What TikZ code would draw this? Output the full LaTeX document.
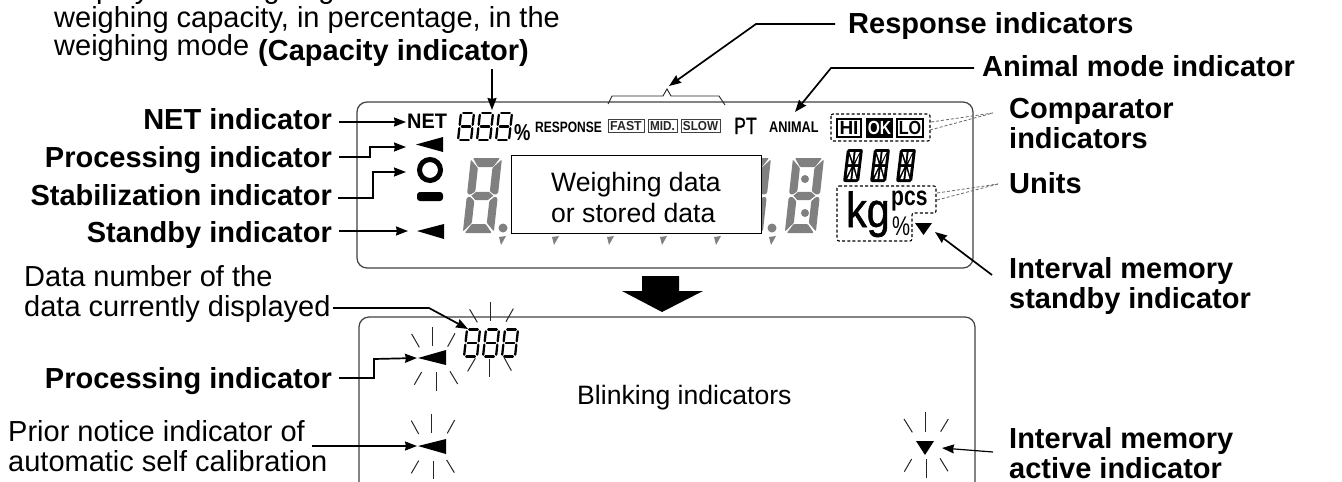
\documentclass[tikz,border=0pt]{standalone}
\usepackage{fontspec}
\setmainfont{Liberation Sans}
\newfontfamily\semib[FakeBold=1.2]{Liberation Sans}
\usetikzlibrary{arrows.meta,calc}
\definecolor{seg}{HTML}{808080}
\definecolor{frame}{HTML}{404040}
\newcommand{\sqz}[2]{\scalebox{#1}[1]{#2}}
% grey seven-segment digit, box 31x75
\newcommand{\biggray}[2]{%
\begin{scope}[shift={(#1,#2)},xslant=.11]
\fill[seg,rounded corners=1pt] (2,0)--(29,0)--(23,9)--(8,9)--cycle;
\fill[seg,rounded corners=1pt] (31,1.5)--(31,35)--(28,37)--(22.5,33.5)--(22.5,10)--cycle;
\fill[seg,rounded corners=1pt] (31,40)--(31,73.5)--(23,65)--(23,43)--(28,38.5)--cycle;
\fill[seg,rounded corners=1pt] (29,75)--(2,75)--(8,66)--(22,66)--cycle;
\fill[seg,rounded corners=1pt] (0,73.5)--(0,40)--(3,38.5)--(8,43)--(8,65)--cycle;
\fill[seg,rounded corners=1pt] (0,35)--(0,1.5)--(8,10)--(8,33.5)--(3,37)--cycle;
\fill[seg] (4.5,37.7)--(9,33.8)--(21.5,33.8)--(26.5,37.7)--(21.5,42)--(9,42)--cycle;
\end{scope}}
% small outlined digit
\newcommand{\smalleight}[2]{%
\begin{scope}[shift={(#1,#2)},xslant=.11,line width=2.3pt,line cap=round]
\draw (2.2,0)--(10.8,0);\draw (13,1.8)--(13,11.8);\draw (13,15.2)--(13,25.2);
\draw (2.2,27)--(10.8,27);\draw (0,25.2)--(0,15.2);\draw (0,11.8)--(0,1.8);
\draw (2.2,13.5)--(10.8,13.5);
\end{scope}}
% fourteen-segment digit
\newcommand{\alnum}[2]{%
\begin{scope}[shift={(#1,#2)},xslant=.12]
\fill[black,rounded corners=2pt] (0,0) rectangle (16,33);
\fill[white] (3,3)--(7,3)--(7,12)--cycle;
\fill[white] (9,13)--(13,3)--(9,3)--cycle;
\fill[white] (13,6)--(13,15)--(10,15)--cycle;
\fill[white] (3,7)--(3,15)--(6.5,15)--cycle;
\fill[white] (3,18)--(6.5,18)--(3,27)--cycle;
\fill[white] (7,21)--(7,30)--(4,30)--cycle;
\fill[white] (9,20)--(13,30)--(9,30)--cycle;
\fill[white] (13,18)--(13,26)--(10,18)--cycle;
\end{scope}}
\newcommand{\tailseg}[1]{\fill[seg] (#1-3,237)--(#1+4,236)--(#1-1,245)--cycle;}
\tikzset{
 lblb/.style={font=\fontsize{29}{30}\selectfont\bfseries,inner sep=0pt,align=left},
 lbln/.style={font=\fontsize{29}{30}\selectfont,inner sep=0pt,align=left},
 lbls/.style={font=\fontsize{26.6}{31}\selectfont,inner sep=0pt,align=left},
 lead/.style={line width=1.7pt,-{Stealth[length=12pt,width=9pt,inset=1pt]}},
 dash1/.style={line width=.8pt,dash pattern=on 3pt off 2pt,black!60},
 dbox/.style={line width=1.1pt,dash pattern=on 3pt off 2.2pt,black},
 panel/.style={line width=1.2pt,frame,rounded corners=10pt},
 rayl/.style={line width=1pt,black!85},
 ind/.style={inner sep=0pt,font=\bfseries},
 respbox/.style={draw=black!75,line width=.9pt,inner sep=0pt,minimum height=13pt,font=\fontsize{13}{13}\selectfont\bfseries,text=black!85},
 cbox/.style={draw=black,line width=2pt,inner sep=0pt,minimum height=18pt,font=\fontsize{19}{19}\selectfont\bfseries},
}
\begin{document}
\begin{tikzpicture}[x=1pt,y=-1pt]
\useasboundingbox (0,0) rectangle (1342,482);
\clip (0,0) rectangle (1342,482);
% panels
\draw[panel] (357,102) rectangle (973,268);
\draw[panel] (359,317) rectangle (975,492);
% big digits
\biggray{471}{158}
\biggray{740}{158}
\biggray{793}{158}
\fill[seg] (805,179) circle (4);
\fill[seg] (805,213) circle (4);
\fill[seg] (503,228) circle (4.5);
\fill[seg] (772,228) circle (4.5);
\tailseg{502}\tailseg{555}\tailseg{610}\tailseg{663}\tailseg{717}\tailseg{772}
% data window
\node[draw=black,line width=1.1pt,fill=white,minimum width=250pt,minimum height=78pt,inner sep=0pt,anchor=north west] (win) at (511,155) {};
\node[lbls,anchor=base west] (windata) at (551,222) {Weighing data\\or stored data};
% upper row
\node[ind,anchor=base west,font=\fontsize{21}{21}\selectfont\bfseries] (net) at (407,128) {\sqz{.95}{NET}};
\smalleight{461}{113}\smalleight{480}{113}\smalleight{499}{113}
\node[inner sep=0pt,anchor=base west,font=\fontsize{23}{23}\selectfont\bfseries] (pct) at (514,140) {\sqz{.8}{\%}};
\node[ind,anchor=base west,font=\fontsize{15}{15}\selectfont\bfseries] (resp) at (535,132) {\sqz{.8}{RESPONSE}};
\node[respbox,minimum width=36pt] (fast) at (626,126) {\sqz{.95}{FAST}};
\node[respbox,minimum width=29pt] (mid) at (662.5,126) {\sqz{.9}{MID.}};
\node[respbox,minimum width=39pt] (slow) at (700.5,126) {\sqz{.9}{SLOW}};
\node[inner sep=0pt,anchor=base west,font=\fontsize{23.5}{23.5}\selectfont\semib] (pt) at (734,134) {\sqz{.75}{PT}};
\node[ind,anchor=base west,font=\fontsize{15.5}{15.5}\selectfont\bfseries] (animal) at (769,132) {\sqz{.82}{ANIMAL}};
\draw[dbox,rounded corners=2pt] (831,114) rectangle (930,141);
\node[cbox,minimum width=24pt] (hi) at (849,127.5) {HI};
\node[cbox,minimum width=25pt,fill=black,text=white] (ok) at (879.5,127.5) {\sqz{.82}{OK}};
\node[cbox,minimum width=26pt] (lo) at (910,127.5) {\sqz{.85}{LO}};
\alnum{847}{149}\alnum{874}{149}\alnum{900}{149}
% units
\draw[dbox,rounded corners=2pt] (837,186)--(936,186)--(936,213)--(912,213)--(912,241)--(837,241)--cycle;
\node[inner sep=0pt,anchor=base west,font=\fontsize{49}{49}\selectfont\semib] (kg) at (846,227) {\sqz{.84}{kg}};
\node[inner sep=0pt,anchor=base west,font=\fontsize{27}{27}\selectfont\bfseries] (pcs) at (891,205) {\sqz{.78}{pcs}};
\node[inner sep=0pt,anchor=base west,font=\fontsize{27}{27}\selectfont] (pctu) at (892,235) {\sqz{.75}{\%}};
\fill (915,223)--(932,223)--(923.5,235)--cycle;
% indicators at left
\fill (416,144.5)--(443,137)--(443,152)--cycle;
\draw[line width=5pt] (430,170) circle (10.5);
\fill[rounded corners=3pt] (417,192) rectangle (443,201);
\fill (417,231)--(444,224)--(444,239)--cycle;
% response brace
\draw[line width=.9pt,black!85] (608,104)--(612,96)--(663,96)--(667,89)--(671,96)--(719,96)--(725,105);
% big arrow
\fill (642,276)--(679,276)--(679,291)--(703,291)--(662,312)--(622,291)--(642,291)--cycle;
% blinking panel
\smalleight{467}{329.5}\smalleight{486}{329.5}\smalleight{505}{329.5}
\fill (418,358)--(446,350)--(446,365)--cycle;
\fill (418,446)--(446,439)--(446,454)--cycle;
\fill (916,441)--(934,441)--(925,455)--cycle;
\begin{scope}[shift={(370,260)},x=.3333pt,y=-.3333pt,rayl]
\draw (299,148)--(322,187);\draw (362,127)--(362,183);\draw (430,146)--(408,185);
\draw (316,295)--(293,334);\draw (360,296)--(360,352);\draw (402,292)--(424,332);
\draw (125,222)--(148,262);\draw (187,202)--(187,258);\draw (255,220)--(233,260);
\draw (155,336)--(133,374);\draw (200,336)--(200,392);\draw (240,334)--(263,372);
\draw (124,482)--(146,522);\draw (186,462)--(186,518);\draw (254,480)--(232,520);
\draw (146,602)--(124,640);\draw (190,602)--(190,658);\draw (230,600)--(253,638);
\end{scope}
\begin{scope}[shift={(880,400)},x=.3333pt,y=-.3333pt,rayl]
\draw (72,57)--(97,97);\draw (136,37)--(136,95);\draw (205,57)--(182,95);
\draw (95,177)--(73,215);\draw (140,178)--(140,235);\draw (180,175)--(204,214);
\end{scope}
\node[lbls,anchor=base west] (blink) at (577,404) {Blinking indicators};
% labels
\node[font=\fontsize{29}{28.5}\selectfont,inner sep=0pt,align=left,anchor=base west] (capnote) at (54,55.5) {Displays the weighing\\weighing capacity, in percentage, in the\\weighing mode};
\node[lblb,anchor=base west] (capb) at (258,60) {(Capacity indicator)};
\node[lblb,anchor=base east] (lnet) at (332,129) {NET indicator};
\node[lblb,anchor=base east] (lproc) at (332,167) {Processing indicator};
\node[lblb,anchor=base east] (lstab) at (332,205) {Stabilization indicator};
\node[lblb,anchor=base east] (lstby) at (332,242) {Standby indicator};
\node[lblb,anchor=base west] (lresp) at (848,33) {Response indicators};
\node[lblb,anchor=base west] (lanim) at (982,76) {Animal mode indicator};
\node[lblb,anchor=base west] (lcomp) at (1009,148) {Comparator\\indicators};
\node[lblb,anchor=base west] (lunit) at (1009,193) {Units};
\node[lblb,anchor=base west] (lstd2) at (1009,308) {Interval memory\\standby indicator};
\node[lblb,anchor=base west] (lact) at (1009,478) {Interval memory\\active indicator};
\node[lbln,anchor=base west] (ldata) at (24,316) {Data number of the\\data currently displayed};
\node[lblb,anchor=base east] (lproc2) at (332,388) {Processing indicator};
\node[lbln,anchor=base west] (lprior) at (8,471) {Prior notice indicator of\\automatic self calibration};
% connector ends
\coordinate (tcap) at (492,110);
\coordinate (tnet) at (406,122);
\coordinate (tproc) at (406,147);
\coordinate (tstab) at (406,172);
\coordinate (tstby) at (408,231);
\coordinate (tresp) at (669,86);
\coordinate (tanim) at (795,112);
\coordinate (tstd) at (935,232);
\coordinate (tdata) at (468,329);
\coordinate (tproc2) at (417,358);
\coordinate (tprior) at (417,446);
\coordinate (tact) at (942,448);
\coordinate (jcomp) at (993,113);
\coordinate (junit) at (998,184);
% connectors
\draw[lead] (492,69) -- (tcap);
\draw[lead] ([xshift=7pt,yshift=7pt]lnet.base east) -- (tnet);
\draw[lead] ([xshift=7pt,yshift=10pt]lproc.base east) -- (370,157) -- (370,147) -- (tproc);
\draw[lead] ([xshift=6pt,yshift=7pt]lstab.base east) -- (373,198) -- (373,172) -- (tstab);
\draw[lead] ([xshift=7pt,yshift=11pt]lstby.base east) -- (tstby);
\draw[lead] ([xshift=-13pt,yshift=9pt]lresp.base west) -- (756,24) -- (tresp);
\draw[lead] ([xshift=-8pt,yshift=8pt]lanim.base west) -- (831,68) -- (tanim);
\draw[lead] ($(lstd2.base west)+(-17,-33)$) -- (tstd);
\draw[lead] (333,308) -- (429,308) -- (tdata);
\draw[lead] ([xshift=7pt,yshift=10pt]lproc2.base east) -- (374,378) -- (374,359) -- (tproc2);
\draw[lead] (312,446) -- (tprior);
\draw[lead,line width=1.2pt] (993,452) -- (tact);
\draw[dash1] (931,122) -- (jcomp);
\draw[dash1] (930,130) -- (jcomp);
\draw[dash1] (937,193) -- (junit);
\draw[dash1] (937,200) -- (junit);
\end{tikzpicture}
\end{document}
